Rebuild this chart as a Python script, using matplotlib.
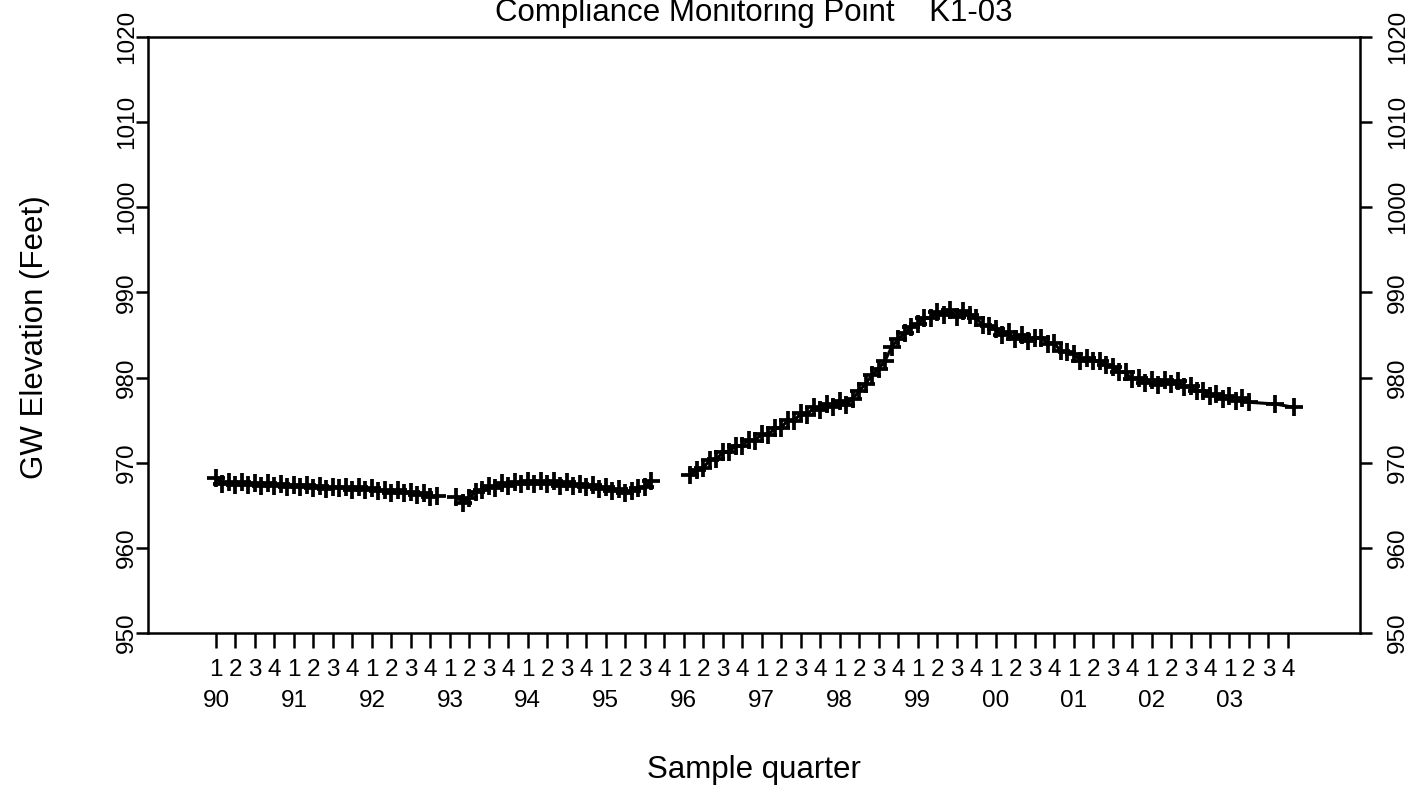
import numpy as np
import pandas as pd
import matplotlib
matplotlib.use("Agg")
import matplotlib.pyplot as plt

plt.rcParams['font.family'] = ['Liberation Sans', 'DejaVu Sans']

nan = np.nan

# Monthly groundwater elevation readings (feet), Jan..Dec; nan = no reading
elev_1990 = [968.2, 967.5, 967.7, 967.4, 967.7, 967.4, 967.6, 967.3, 967.6, 967.3, 967.5, 967.2]
elev_1991 = [967.4, 967.1, 967.4, 967.0, 967.3, 966.9, 967.2, 967.0, 967.1, 966.8, 967.1, 966.8]
elev_1992 = [967.0, 966.7, 966.8, 966.5, 966.8, 966.4, 966.6, 966.2, 966.4, 966.0, 966.1, nan]
elev_1993 = [nan, 966.0, 965.3, 965.9, 966.6, 966.8, 967.3, 967.0, 967.6, 967.3, 967.7, 967.5]
elev_1994 = [967.9, 967.5, 967.9, 967.5, 967.8, 967.3, 967.7, 967.3, 967.5, 967.1, 967.4, 966.9]
elev_1995 = [967.1, 966.7, 966.9, 966.4, 966.7, 967.0, 967.2, 967.8, nan, nan, nan, nan]
elev_1996 = [nan, 968.6, 969.1, 969.4, 970.3, 970.4, 971.2, 971.3, 972.0, 972.0, 972.7, 972.6]
elev_1997 = [973.4, 973.2, 974.1, 974.1, 975.0, 974.9, 975.8, 975.6, 976.5, 976.2, 976.9, 976.5]
elev_1998 = [977.2, 976.8, 977.5, 978.4, 979.3, 980.3, 981.0, 982.0, 983.6, 984.5, 985.2, 985.9]
elev_1999 = [986.3, 987.0, 987.0, 987.7, 987.4, 987.9, 987.1, 987.8, 987.3, 987.0, 986.2, 986.1]
elev_2000 = [985.7, 985.0, 985.3, 984.5, 985.0, 984.3, 984.6, 984.7, 984.0, 984.1, 983.1, 983.0]
elev_2001 = [982.8, 982.0, 982.3, 981.9, 982.0, 981.5, 981.3, 980.6, 980.6, 979.8, 980.0, 979.4]
elev_2002 = [979.7, 979.1, 979.7, 979.2, 979.6, 978.9, 979.0, 978.4, 978.4, 977.8, 978.1, 977.5]
elev_2003 = [977.8, 977.2, 977.6, 977.1, nan, nan, nan, 976.9, nan, nan, 976.5, nan]

years = list(range(1990, 2004))
yearly = [elev_1990, elev_1991, elev_1992, elev_1993, elev_1994, elev_1995, elev_1996,
          elev_1997, elev_1998, elev_1999, elev_2000, elev_2001, elev_2002, elev_2003]

# record is interrupted after these months (no connecting line)
record_breaks = [(1992, 11), (1995, 8)]

year_labels = ["90", "91", "92", "93", "94", "95", "96", "97", "98", "99", "00", "01", "02", "03"]
quarter_labels = ["1", "2", "3", "4"]
y_ticks = [950, 960, 970, 980, 990, 1000, 1010, 1020]

title = "Compliance Monitoring Point    K1-03"


def build_record():
    rows = []
    for yr, vals in zip(years, yearly):
        for mo, v in enumerate(vals, start=1):
            rows.append({'year': yr, 'month': mo, 'elev': v})
    df = pd.DataFrame(rows).dropna().reset_index(drop=True)
    # position in quarters since 1990 Q1
    df['qpos'] = (df['year'] - 1990) * 4 + (df['month'] - 1) / 3.0
    seg = np.zeros(len(df), dtype=int)
    n = 0
    for i, r in df.iterrows():
        seg[i] = n
        if (r['year'], r['month']) in record_breaks:
            n += 1
    df['segment'] = seg
    return df


df = build_record()

W, H = 1423, 789
fig = plt.figure(figsize=(W / 100, H / 100), dpi=100)
ax = fig.add_axes([148 / W, 1 - 633 / H, (1360 - 148) / W, (633 - 37) / H])

for _, part in df.groupby('segment'):
    ax.plot(part['qpos'], part['elev'], '-', color='black', lw=2.2)
ax.plot(df['qpos'], df['elev'], ls='none', marker='+', ms=13.5, mew=2.7, color='black')

n_q = len(years) * 4
ax.set_xlim((148 - 216) / 19.49, (1360 - 216) / 19.49)
ax.set_ylim(950, 1020)

tick_fs = 17.5
ax.set_xticks(range(n_q))
ax.set_xticklabels(quarter_labels * len(years), fontsize=tick_fs)
ax.tick_params(axis='x', direction='out', length=10.8, width=1.8, pad=7.6)

ax.set_yticks(y_ticks)
ax.set_yticklabels([])
ax.tick_params(axis='y', direction='out', length=8.6, width=1.8, left=True, right=True)

for sp in ax.spines.values():
    sp.set_linewidth(1.8)

xtr = ax.get_xaxis_transform()
for i, lab in enumerate(year_labels):
    ax.text(i * 4, -0.1237, lab, transform=xtr, ha='center', va='baseline', fontsize=tick_fs)

ytr = ax.get_yaxis_transform()
for v in y_ticks:
    ax.text((133 - 148) / 1212, v, str(v), transform=ytr, rotation=90, rotation_mode='anchor',
            ha='center', va='baseline', fontsize=tick_fs)
    ax.text((1404 - 148) / 1212, v, str(v), transform=ytr, rotation=90, rotation_mode='anchor',
            ha='center', va='baseline', fontsize=tick_fs)

fig.text(754 / W, 1 - 21 / H, title, ha='center', va='baseline', fontsize=22.5)
fig.text(754 / W, 1 - 778 / H, "Sample quarter", ha='center', va='baseline', fontsize=22.5)
fig.text(43 / W, 1 - 337 / H, "GW Elevation (Feet)", rotation=90, rotation_mode='anchor',
         ha='center', va='baseline', fontsize=22.5)

fig.savefig("out.png", dpi=100)
